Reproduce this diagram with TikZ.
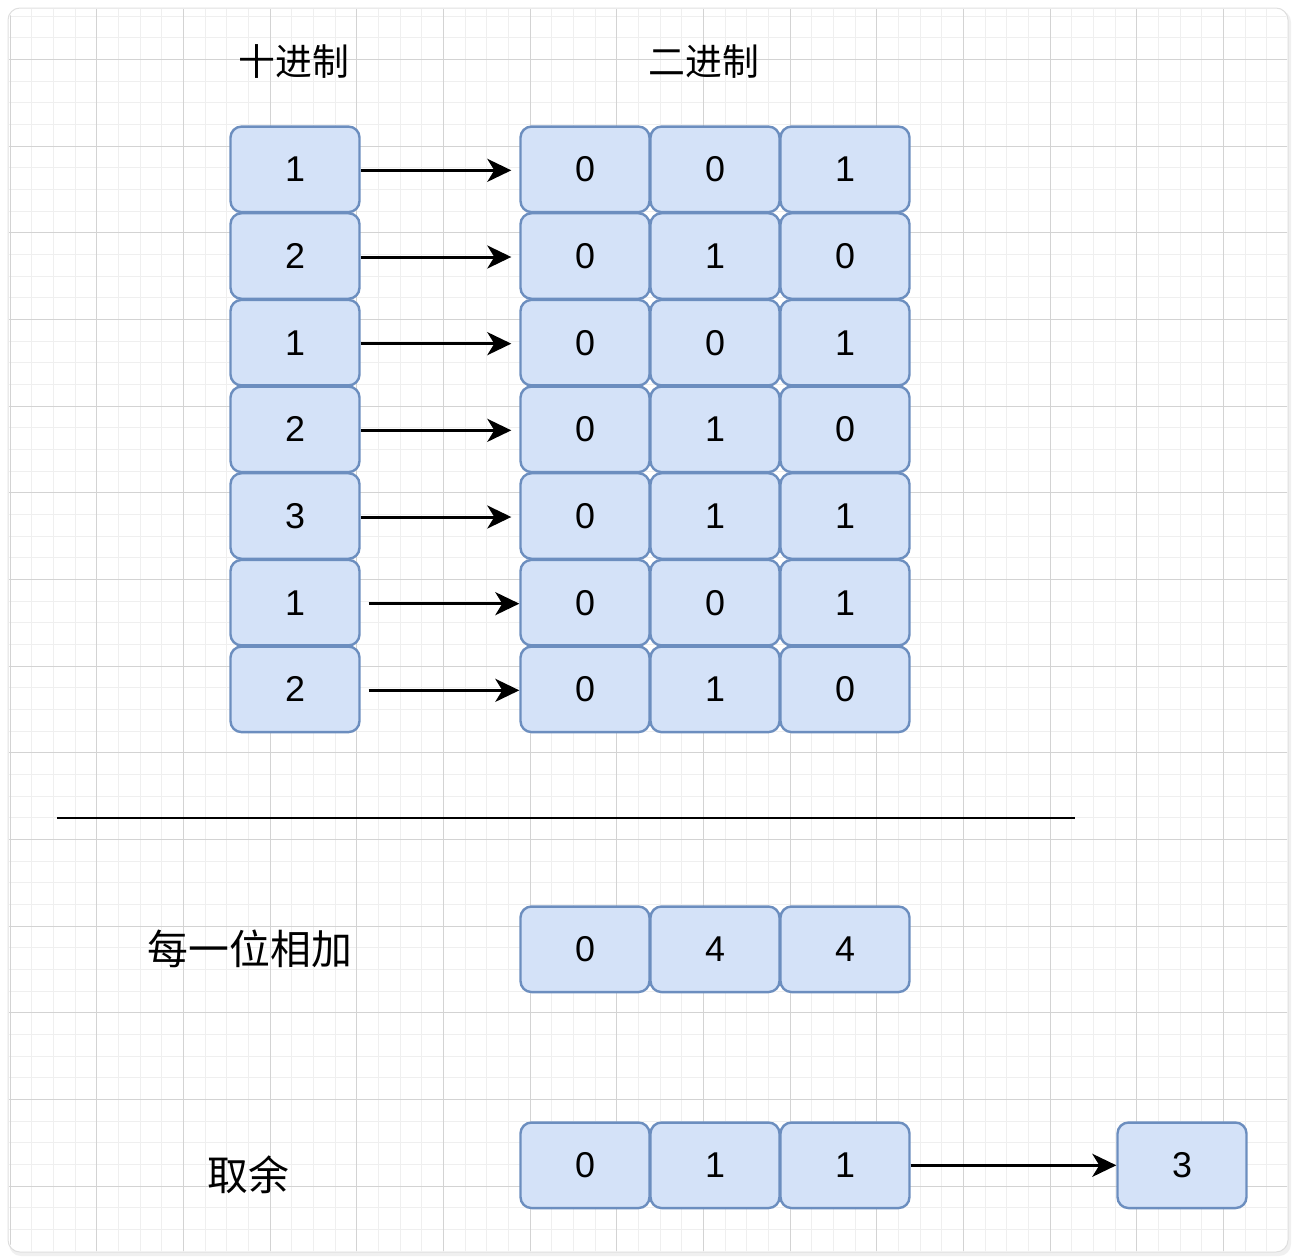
\documentclass[tikz,border=0pt]{standalone}
\usepackage{fontspec}
\setmainfont{Liberation Sans}
\newfontfamily\cjk{Noto Sans CJK SC}
\usetikzlibrary{arrows.meta}
\definecolor{boxfill}{HTML}{D4E2F8}
\definecolor{boxstroke}{HTML}{6C8EBF}
\definecolor{gridminor}{HTML}{EFEFEF}
\definecolor{gridmajor}{HTML}{D3D3D3}
\tikzset{
  cell/.style={draw=boxstroke, fill=boxfill, line width=2.4bp, rounded corners=11bp,
    minimum width=129bp, minimum height=85.5bp, inner sep=0pt, anchor=center,
    font=\fontsize{36}{40}\selectfont},
  title/.style={font=\cjk\fontsize{37}{40}\selectfont, inner sep=0pt},
  label/.style={font=\cjk\fontsize{41}{46}\selectfont, inner sep=0pt},
  conn/.style={line width=3bp, -{Stealth[length=24bp,width=23bp,inset=7bp]}},
}
\begin{document}
\begin{tikzpicture}[x=1bp,y=-1bp]
\useasboundingbox (0,0) rectangle (1296,1260);
% frame
\fill[gray!12, rounded corners=12bp] (9,10) rectangle (1291,1256);
\draw[gray!25, fill=white, line width=1bp, rounded corners=12bp] (8,8) rectangle (1288,1252);
\begin{scope}
\clip[rounded corners=12bp] (9,9) rectangle (1287,1251);
\foreach \i in {0,...,59} {
  \draw[gridminor, line width=1bp] (10+\i*21.6667,8) -- (10+\i*21.6667,1252);
}
\foreach \i in {0,...,57} {
  \draw[gridminor, line width=1bp] (8,16+\i*21.6667) -- (1288,16+\i*21.6667);
}
\foreach \i in {0,...,14} {
  \draw[gridmajor, line width=1bp] (10+\i*86.6667,8) -- (10+\i*86.6667,1252);
}
\foreach \i in {0,...,14} {
  \draw[gridmajor, line width=1bp] (8,59.33+\i*86.6667) -- (1288,59.33+\i*86.6667);
}
\end{scope}
% titles
\node[title] (t1) at (294,62) {十进制};
\node[title] (t2) at (704,62) {二进制};
% rows
\foreach \r/\d/\a/\b/\c in {1/1/0/0/1, 2/2/0/1/0, 3/1/0/0/1, 4/2/0/1/0, 5/3/0/1/1, 6/1/0/0/1, 7/2/0/1/0} {
  \pgfmathsetmacro{\yy}{169.33+(\r-1)*86.6667}
  \node[cell] (d\r) at (295,\yy) {\d};
  \node[cell] (a\r) at (585,\yy) {\a};
  \node[cell] (b\r) at (715,\yy) {\b};
  \node[cell] (c\r) at (845,\yy) {\c};
}
\foreach \r in {1,...,5} {
  \draw[conn, shorten >=8bp] ([yshift=-1bp]d\r.east) -- ([yshift=-1bp]a\r.west);
}
\foreach \r in {6,7} {
  \draw[conn, shorten <=8bp] ([yshift=-1bp]d\r.east) -- ([yshift=-1bp]a\r.west);
}
% separator
\coordinate (l1) at (57,818);
\coordinate (l2) at (1075,818);
\draw[line width=2.8bp] (l1) -- (l2);
% sum row
\node[label] (s) at (250,949) {每一位相加};
\node[cell] (sa) at (585,949.3) {0};
\node[cell] (sb) at (715,949.3) {4};
\node[cell] (sc) at (845,949.3) {4};
% mod row
\node[label] (m) at (248,1175) {取余};
\node[cell] (ma) at (585,1165.3) {0};
\node[cell] (mb) at (715,1165.3) {1};
\node[cell] (mc) at (845,1165.3) {1};
\node[cell] (res) at (1182,1165.3) {3};
\draw[conn] (mc.east) -- (res.west);
\end{tikzpicture}
\end{document}
